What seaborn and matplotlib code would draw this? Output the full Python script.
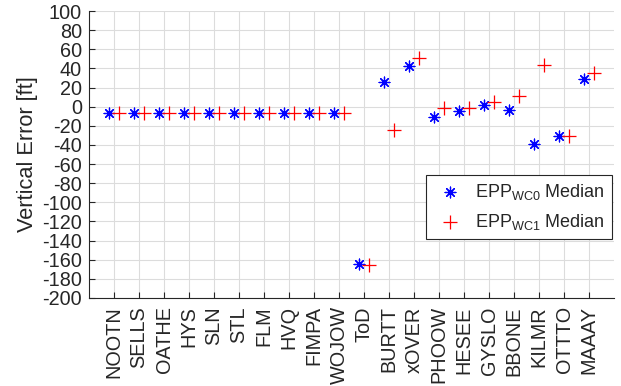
import numpy as np
import pandas as pd
import matplotlib
matplotlib.use("Agg")
import matplotlib.pyplot as plt
import seaborn as sns

categories = ["NOOTN", "SELLS", "OATHE", "HYS", "SLN", "STL", "FLM", "HVQ", "FIMPA", "WOJOW",
              "ToD", "BURTT", "xOVER", "PHOOW", "HESEE", "GYSLO", "BBONE", "KILMR", "OTTTO", "MAAAY"]
wc0_median = [-7, -7, -7, -7, -7, -7, -7, -7, -7, -7,
              -164, 26, 43, -11, -5, 2, -4, -39, -31, 29]
wc1_median = [-7, -7, -7, -7, -7, -7, -7, -7, -7, -7,
              -166, -24, 51, -1, -1, 5, 11, 44, -31, 35]
yticks = list(range(-200, 101, 20))

sns.set_theme(style="white")
plt.rcParams['font.family'] = ['Liberation Sans', 'DejaVu Sans']
plt.rcParams['mathtext.fontset'] = 'custom'
plt.rcParams['mathtext.rm'] = 'Liberation Sans'

fig = plt.figure(figsize=(6.21, 3.86), dpi=100)
ax = fig.add_axes([0.1433, 0.228, 0.846, 0.7435])

pos = np.arange(1, len(categories) + 1)
df0 = pd.DataFrame({"x": pos - 0.2, "y": wc0_median})
df1 = pd.DataFrame({"x": pos + 0.2, "y": wc1_median})

sns.scatterplot(data=df0, x="x", y="y", ax=ax, marker=(8, 2, 0), color=(0, 0, 1),
                s=60, linewidth=0.9, label=r"EPP$_{\mathrm{WC0}}$ Median", zorder=3)
sns.scatterplot(data=df1, x="x", y="y", ax=ax, marker="+", color=(1, 0, 0),
                s=95, linewidth=0.9, label=r"EPP$_{\mathrm{WC1}}$ Median", zorder=3)

ax.set_xlim(0, 21)
ax.set_ylim(-200, 100)
ax.set_xticks(pos)
ax.set_xticklabels(categories, rotation=90)
ax.set_yticks(yticks)
ax.set_yticklabels([str(v) for v in yticks])
ax.set_xlabel("")
ax.set_ylabel("Vertical Error [ft]", fontsize=15.7, color="#262626", labelpad=3)

ax.grid(True, color="#dcdcdc", linewidth=0.8)
ax.set_axisbelow(True)
for s in ["top", "right"]:
    ax.spines[s].set_visible(False)
for s in ["left", "bottom"]:
    ax.spines[s].set_color("#262626")
    ax.spines[s].set_linewidth(0.8)
ax.tick_params(axis="both", direction="in", length=4, width=0.8, colors="#262626",
               labelsize=14.3, left=True, bottom=True)
ax.tick_params(axis="y", pad=5)
ax.tick_params(axis="x", pad=6)

leg = ax.legend(loc="lower right", bbox_to_anchor=(0.995, 0.205), borderaxespad=0,
                fontsize=13, frameon=True, fancybox=False, edgecolor="#262626",
                framealpha=1, handletextpad=0.5, borderpad=0.4, labelspacing=0.55,
                handlelength=1.8)
leg.get_frame().set_linewidth(0.8)

fig.savefig("out.png", dpi=100)
